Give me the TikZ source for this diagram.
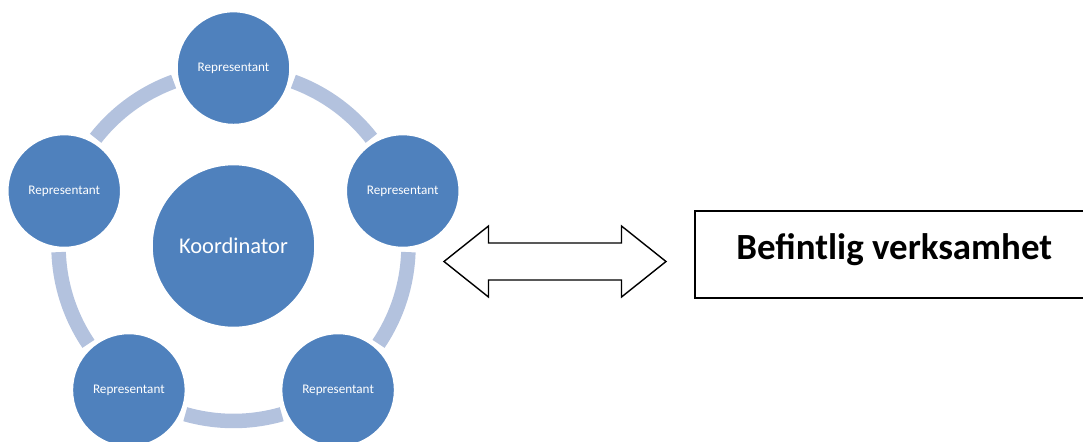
\documentclass[tikz,border=0pt]{standalone}
\usepackage{fontspec}
\setmainfont{Carlito}
\definecolor{cblue}{HTML}{4F81BD}
\definecolor{carc}{HTML}{B3C2DE}
\begin{document}
\begin{tikzpicture}[x=0.02cm,y=0.02cm]
\tikzset{
  rep/.style={circle, fill=cblue, draw=white, line width=0.05cm, minimum size=2.28cm, inner sep=0pt, text=white, font=\fontsize{7.5}{9}\selectfont},
  koord/.style={circle, fill=cblue, draw=white, line width=0.05cm, minimum size=3.28cm, inner sep=0pt, text=white, font=\fontsize{12.8}{15}\selectfont},
  cyc/.style={draw=carc, line width=0.29cm},
  bigarrow/.style={draw=black, line width=0.8pt, fill=white, line join=miter},
  box/.style={draw=black, line width=0.9pt, rectangle, minimum width=7.98cm, minimum height=1.74cm, inner sep=0pt, text height=0.98cm, text depth=0.76cm, font=\bfseries\fontsize{21}{25}\selectfont}
}
\useasboundingbox (0,0) rectangle (1083,-441);
\node[koord] (ko) at (233.5,-246) {Koordinator};
% cycle arcs
\draw[cyc] ([shift={(70:3.5cm)}]ko.center) arc[start angle=70, end angle=38, radius=3.5cm];
\draw[cyc] ([shift={(-2:3.5cm)}]ko.center) arc[start angle=-2, end angle=-34, radius=3.5cm];
\draw[cyc] ([shift={(-74:3.5cm)}]ko.center) arc[start angle=-74, end angle=-106, radius=3.5cm];
\draw[cyc] ([shift={(-146:3.5cm)}]ko.center) arc[start angle=-146, end angle=-178, radius=3.5cm];
\draw[cyc] ([shift={(142:3.5cm)}]ko.center) arc[start angle=142, end angle=110, radius=3.5cm];
% representatives
\node[rep] (r1) at ([shift={(90:3.56cm)}]ko.center) {Representant};
\node[rep] (r2) at ([shift={(18:3.56cm)}]ko.center) {Representant};
\node[rep] (r3) at ([shift={(-54:3.56cm)}]ko.center) {Representant};
\node[rep] (r4) at ([shift={(-126:3.56cm)}]ko.center) {Representant};
\node[rep] (r5) at ([shift={(162:3.56cm)}]ko.center) {Representant};
% double arrow
\coordinate (ar) at (555,-261.5);
\draw[bigarrow] ([shift={(-111,0)}]ar) -- ([shift={(-66.5,35.5)}]ar) -- ([shift={(-66.5,18.5)}]ar)
  -- ([shift={(66.5,18.5)}]ar) -- ([shift={(66.5,35.5)}]ar) -- ([shift={(111,0)}]ar)
  -- ([shift={(66.5,-35.5)}]ar) -- ([shift={(66.5,-18.5)}]ar) -- ([shift={(-66.5,-18.5)}]ar)
  -- ([shift={(-66.5,-35.5)}]ar) -- cycle;
% box
\node[box, anchor=north west] (bv) at (694,-210) {Befintlig verksamhet};
\end{tikzpicture}
\end{document}
